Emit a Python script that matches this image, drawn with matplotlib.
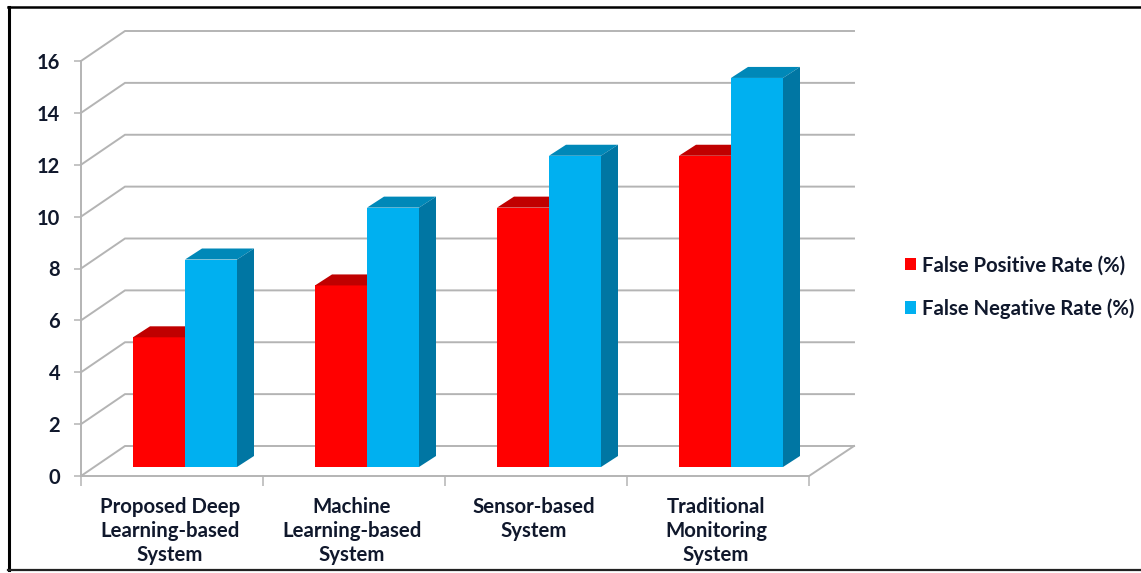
import matplotlib

matplotlib.use("Agg")
import matplotlib.pyplot as plt
from matplotlib.lines import Line2D
from matplotlib.patches import Polygon
from matplotlib.transforms import ScaledTranslation

categories = [
    "Proposed Deep\nLearning-based\nSystem",
    "Machine\nLearning-based\nSystem",
    "Sensor-based\nSystem",
    "Traditional\nMonitoring\nSystem",
]
false_positive = [5, 7, 10, 12]
false_negative = [8, 10, 12, 15]
y_ticks = [0, 2, 4, 6, 8, 10, 12, 14, 16]

W, H = 1141, 573
TEXT = "#10182c"
GRID = "#b4b4b4"

plt.rcParams["font.family"] = ["Lato", "DejaVu Sans"]
plt.rcParams["font.weight"] = "bold"

fig = plt.figure(figsize=(W / 100, H / 100), dpi=100)

# front plane of the fake 3D box, in pixels from the top left
left, right, top, bottom = 81, 809, 61, 476
ax = fig.add_axes([left / W, 1 - bottom / H, (right - left) / W, (bottom - top) / H])
ax.set_xlim(0, 4)
ax.set_ylim(0, 16)

ux = (right - left) / 4  # pixels per category
uy = (bottom - top) / 16  # pixels per unit of rate

wall_dx, wall_dy = 44 / ux, 30 / uy  # depth of the box
grid_end = 4 + 45 / ux
bar_dx, bar_dy = 17 / ux, 11 / uy  # depth of each bar
bar_w = 52 / ux
bar_base = 9 / uy
bar_start = 52 / ux

# gridlines run up the side wall and then along the back wall
for v in y_ticks:
    ax.plot([0, wall_dx, grid_end], [v, v + wall_dy, v + wall_dy],
            color=GRID, lw=1.4, clip_on=False, zorder=1, solid_joinstyle="miter")
ax.plot([4, grid_end], [0, wall_dy], color=GRID, lw=1.4, clip_on=False, zorder=1)


def bar3d(x, value, front, top_col, side_col, label=None):
    ax.bar(x, value, bar_w, bottom=bar_base, align="edge", color=front,
           clip_on=False, zorder=3, label=label, lw=0)
    y0, y1 = bar_base, bar_base + value
    x1 = x + bar_w
    ax.add_patch(Polygon([(x, y1), (x1, y1), (x1 + bar_dx, y1 + bar_dy), (x + bar_dx, y1 + bar_dy)],
                         fc=top_col, ec="none", clip_on=False, zorder=3))
    ax.add_patch(Polygon([(x1, y0), (x1, y1), (x1 + bar_dx, y1 + bar_dy), (x1 + bar_dx, y0 + bar_dy)],
                         fc=side_col, ec="none", clip_on=False, zorder=3))


for i, (fp, fn) in enumerate(zip(false_positive, false_negative)):
    bar3d(i + bar_start, fp, "#ff0000", "#c00000", "#a80000",
          "False Positive Rate (%)" if i == 0 else None)
    bar3d(i + bar_start + bar_w, fn, "#00b0f0", "#0088b8", "#0076a3",
          "False Negative Rate (%)" if i == 0 else None)

for side in ("top", "right"):
    ax.spines[side].set_visible(False)
for side in ("left", "bottom"):
    ax.spines[side].set_color(GRID)
    ax.spines[side].set_linewidth(1.4)

ax.set_yticks(y_ticks)
ax.set_xticks(range(5))
ax.set_xticklabels([])
ax.set_xticks([i + 0.5 for i in range(4)], categories, minor=True)
ax.tick_params(axis="y", length=5, width=1.1, color=GRID, pad=10, labelsize=14.5, labelcolor=TEXT)
ax.tick_params(axis="x", which="major", length=7, width=1.1, color=GRID)
ax.tick_params(axis="x", which="minor", length=0, pad=15, labelsize=14.7, labelcolor=TEXT)
# category labels sit a touch left of the slot centres
nudge = ScaledTranslation(-2 / 100, 0, fig.dpi_scale_trans)
for lab in ax.get_xticklabels(minor=True):
    lab.set_linespacing(1.26)
    lab.set_verticalalignment("top")
    lab.set_transform(lab.get_transform() + nudge)

fig.legend(loc="center left", bbox_to_anchor=(905 / W, 1 - 287 / H), frameon=False,
           fontsize=14.6, labelcolor=TEXT, handlelength=0.55, handleheight=0.55,
           handletextpad=0.3, labelspacing=1.12, borderpad=0, borderaxespad=0)

# outer frame, open on the right
for xs, ys, lw, col in [
    ([9, 9], [7, 570], 2.2, "black"),
    ([8, W], [7, 7], 1.8, "black"),
    ([8, W], [570, 570], 1.6, "#222222"),
]:
    fig.add_artist(Line2D([x / W for x in xs], [1 - y / H for y in ys], lw=lw, color=col))

fig.savefig("out.png", dpi=100, facecolor="white")
